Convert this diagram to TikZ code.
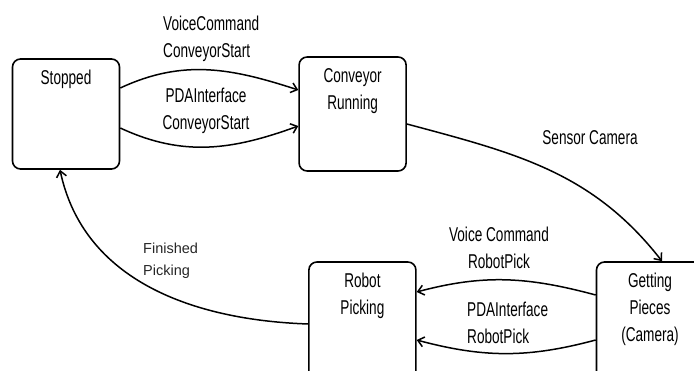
\documentclass[tikz,border=0pt]{standalone}
\usepackage{fontspec}
\setmainfont{Liberation Sans}
\newfontfamily\condensed[FakeStretch=0.68]{Liberation Sans}
\usetikzlibrary{arrows,arrows.meta,shapes,positioning}

\tikzset{
    statebox/.style={draw, rounded corners=8pt, line width=1.6pt, minimum width=107pt, minimum height=114pt},
    boxname/.style={anchor=north, yshift=-12pt, inner sep=0pt, align=center, font=\condensed\fontsize{20}{27}\selectfont},
    trans/.style={-{Straight Barb[length=6pt,width=10pt]}, line width=1.5pt},
    translabel/.style={inner sep=0pt, font=\condensed\fontsize{20}{27}\selectfont}
}

\begin{document}
\begin{tikzpicture}[x=1pt,y=-1pt]
    \clip (0,0) rectangle (694,371);
    \node[statebox, minimum height=110pt, label={[boxname]north:Stopped}] (stopped) at (66,114) {};
    \node[statebox, right=178pt of stopped, label={[boxname]north:Conveyor\\Running}] (conv) {};
    \node[statebox, minimum height=124pt, label={[boxname]north:Getting\\Pieces\\(Camera)}] (getting) at (650,324) {};
    \node[statebox, minimum height=124pt, left=179pt of getting, label={[boxname]north:Robot\\Picking}] (robot) {};

    \node[translabel, align=left, anchor=north west] (vcstart) at (163,16) {VoiceCommand\\ConveyorStart};
    \node[translabel, align=center, anchor=north] (pdastart) at (206,88) {PDAInterface\\ConveyorStart};
    \node[translabel, anchor=north] (sensor) at (590,130) {Sensor Camera};
    \node[translabel, align=center, anchor=north] (vcpick) at (499,227) {Voice Command\\RobotPick};
    \node[translabel, align=left, anchor=north west] (pdapick) at (467,302) {PDAInterface\\RobotPick};
    \node[inner sep=0pt, align=left, anchor=north west, text=black!85,
          font=\fontsize{14.5}{21.5}\selectfont] (finished) at (143,243) {Finished\\Picking};

    \draw[trans] ([yshift=26pt]stopped.east) to[out=25,in=162] ([yshift=24pt]conv.west);
    \draw[trans] ([yshift=-14pt]stopped.east) to[out=-25,in=200] ([yshift=-12pt]conv.west);
    \draw[trans] ([yshift=-10pt]conv.east) to[out=-15,in=128] ([xshift=12pt]getting.north);
    \draw[trans] ([yshift=29pt]getting.west) to[out=165,in=15] ([yshift=32pt]robot.east);
    \draw[trans] ([yshift=-16pt]getting.west) to[out=195,in=-15] ([yshift=-16pt]robot.east);
    \draw[trans] (robot.west) to[out=178,in=-78] ([xshift=-6pt]stopped.south);
\end{tikzpicture}
\end{document}
